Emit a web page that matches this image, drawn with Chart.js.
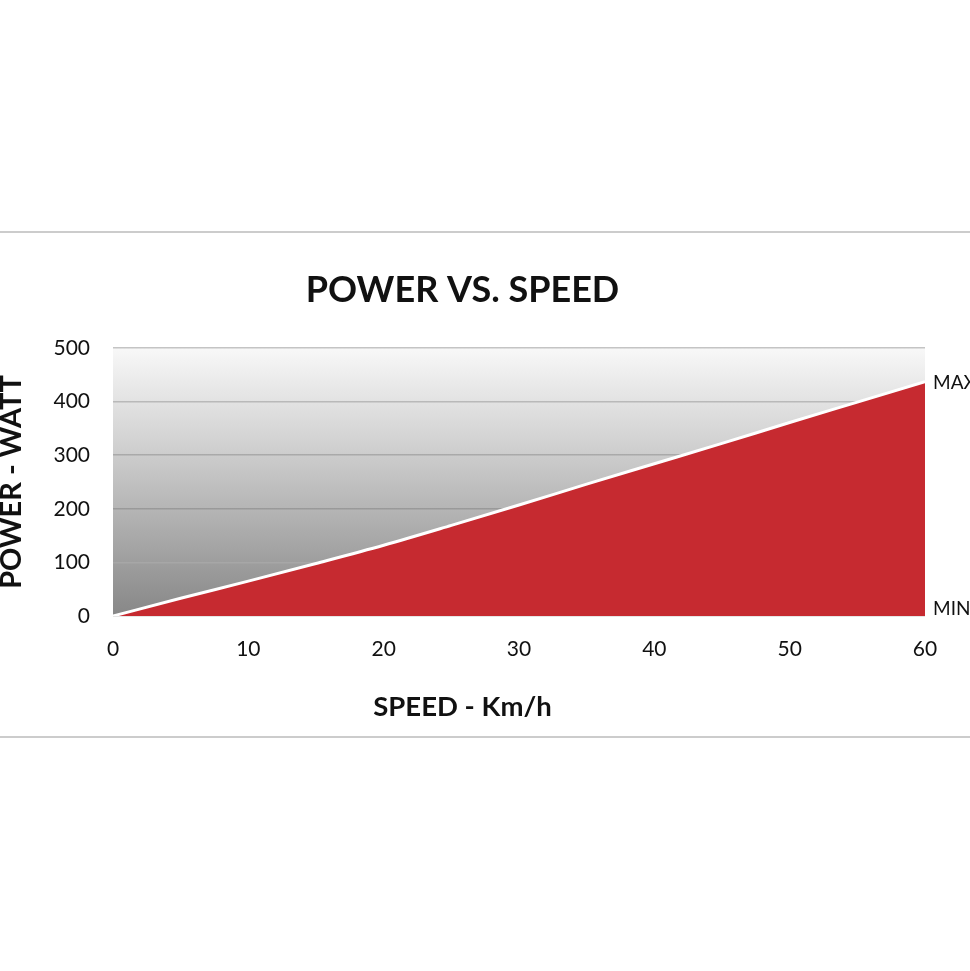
<!DOCTYPE html>
<html>
<head>
<meta charset="utf-8">
<title>Power vs. Speed</title>
<script src="https://cdn.jsdelivr.net/npm/chart.js@4.4.1/dist/chart.umd.min.js"></script>
<style>
  html, body { margin: 0; padding: 0; background: #ffffff; }
  #powerChart { display: block; }
</style>
</head>
<body>
<canvas id="powerChart" width="970" height="971"></canvas>
<script>
// Chart data
const speeds = [0, 5, 10, 15, 20, 25, 30, 35, 40, 45, 50, 55, 60];
const power = [0, 33, 65, 98, 132, 169, 207, 246, 284, 322, 361, 399, 437];
const speedTicks = [0, 10, 20, 30, 40, 50, 60];
const powerTicks = [0, 100, 200, 300, 400, 500];
const endLabels = ["MAX", "MIN"];

const fontFamily = "Lato, 'Open Sans', sans-serif";

// Paints the page rules and the grey gradient behind the plot
const backgroundPlugin = {
  id: "plotBackground",
  beforeDraw(chart) {
    const { ctx, chartArea, width } = chart;
    ctx.save();
    ctx.fillStyle = "#ffffff";
    ctx.fillRect(0, 0, chart.width, chart.height);

    // thin rules above and below the figure
    ctx.strokeStyle = "#cccccc";
    ctx.lineWidth = 2;
    ctx.beginPath();
    ctx.moveTo(0, 232);
    ctx.lineTo(width, 232);
    ctx.moveTo(0, 737);
    ctx.lineTo(width, 737);
    ctx.stroke();

    const grad = ctx.createLinearGradient(0, chartArea.top, 0, chartArea.bottom);
    grad.addColorStop(0, "#f8f8f8");
    grad.addColorStop(0.35, "#d2d2d2");
    grad.addColorStop(1, "#878787");
    ctx.fillStyle = grad;
    ctx.fillRect(chartArea.left, chartArea.top, chartArea.right - chartArea.left, chartArea.bottom - chartArea.top);
    ctx.restore();
  },
};

// MAX / MIN notes at the right end of the curve
const endLabelPlugin = {
  id: "endLabels",
  afterDraw(chart) {
    const { ctx } = chart;
    const x = chart.scales.x;
    const y = chart.scales.y;
    const px = x.getPixelForValue(speeds[speeds.length - 1]) + 8;
    ctx.save();
    ctx.font = "19px " + fontFamily;
    ctx.fillStyle = "#111111";
    ctx.textAlign = "left";
    ctx.textBaseline = "middle";
    ctx.fillText(endLabels[0], px, y.getPixelForValue(power[power.length - 1]) + 1);
    ctx.fillText(endLabels[1], px, y.getPixelForValue(0) - 7);
    ctx.restore();
  },
};

const ctx = document.getElementById("powerChart").getContext("2d");
const powerChart = new Chart(ctx, {
  type: "line",
  data: {
    datasets: [
      {
        data: speeds.map((s, i) => ({ x: s, y: power[i] })),
        backgroundColor: "#c62a30",
        borderColor: "#ffffff",
        borderWidth: 3,
        fill: "origin",
        pointRadius: 0,
        cubicInterpolationMode: "monotone",
      },
    ],
  },
  options: {
    responsive: false,
    animation: false,
    layout: {
      padding: { top: 0, left: 0, right: 45, bottom: 247.5 },
    },
    scales: {
      x: {
        type: "linear",
        min: 0,
        max: 60,
        afterBuildTicks: (axis) => {
          axis.ticks = speedTicks.map((v) => ({ value: v }));
        },
        afterFit: (axis) => {
          axis.height = 60;
        },
        grid: { display: false, drawTicks: false },
        border: { display: false },
        ticks: {
          color: "#111111",
          padding: 21,
          font: { family: fontFamily, size: 21 },
        },
      },
      y: {
        min: 0,
        max: 500,
        afterBuildTicks: (axis) => {
          axis.ticks = powerTicks.map((v) => ({ value: v }));
        },
        afterFit: (axis) => {
          axis.width = 113;
        },
        grid: {
          drawTicks: false,
          lineWidth: 1.5,
          color: (context) => {
            if (context.tick.value === 500) return "#c4c4c4";
            if (context.tick.value === 100) return "rgba(255,255,255,0.10)";
            return "rgba(90,90,90,0.30)";
          },
        },
        border: { display: false },
        ticks: {
          color: "#111111",
          padding: 23,
          font: { family: fontFamily, size: 21 },
        },
        title: {
          display: true,
          text: "POWER - WATT",
          color: "#111111",
          padding: { top: 0, bottom: 0 },
          font: { family: fontFamily, size: 29, weight: "bold", lineHeight: 0.8 },
        },
      },
    },
    plugins: {
      legend: { display: false },
      tooltip: { enabled: false },
      title: {
        display: true,
        text: "POWER VS. SPEED",
        color: "#111111",
        padding: { top: 268.4, bottom: 36.4 },
        font: { family: fontFamily, size: 36, weight: "bold", lineHeight: 1.2 },
      },
      subtitle: {
        display: true,
        position: "bottom",
        text: "SPEED - Km/h",
        color: "#111111",
        padding: { top: 14.5, bottom: 0 },
        font: { family: fontFamily, size: 27.5, weight: "bold", lineHeight: 1.2 },
      },
    },
  },
  plugins: [backgroundPlugin, endLabelPlugin],
});
</script>
</body>
</html>
